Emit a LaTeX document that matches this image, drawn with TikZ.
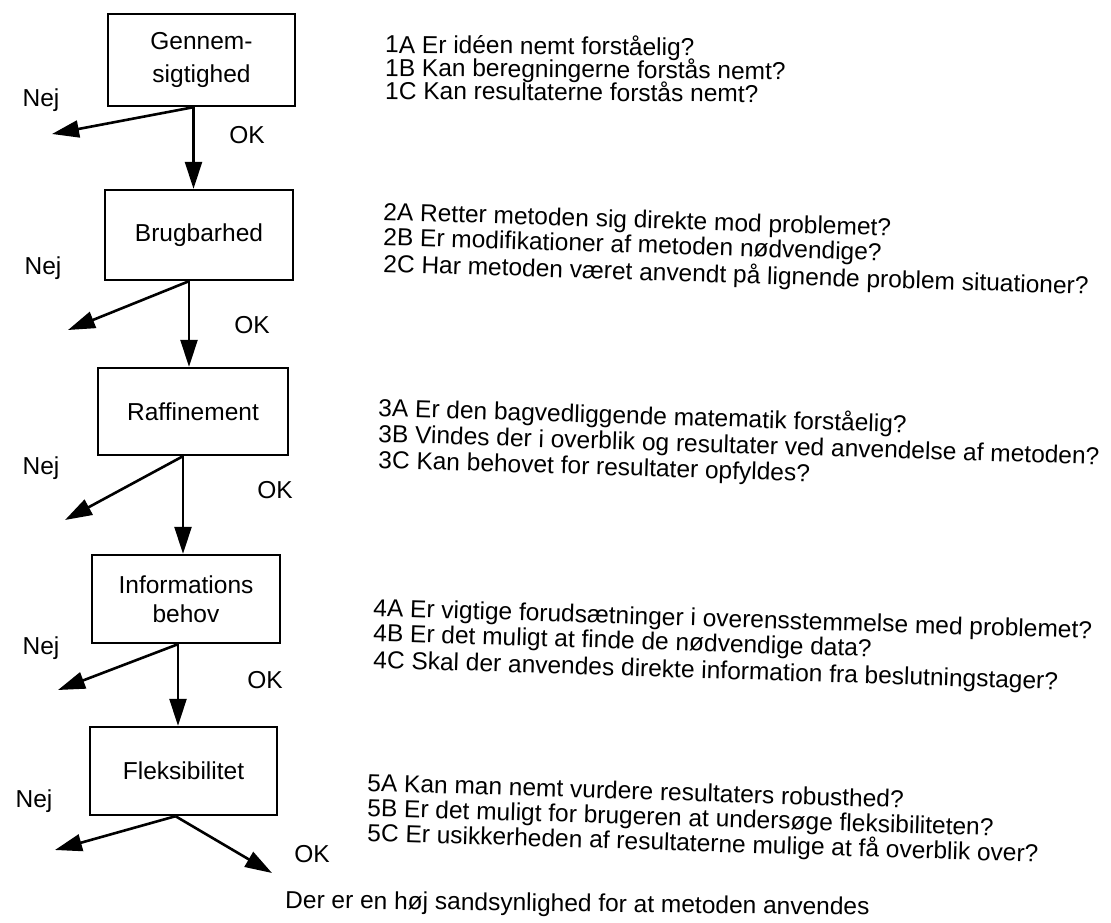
\documentclass[tikz,border=0pt]{standalone}
\usepackage{fontspec}
\setmainfont{Liberation Sans}
\usetikzlibrary{arrows.meta}
\begin{document}
\begin{tikzpicture}[x=1pt,y=-1pt,
  box/.style={draw, line width=2.4pt, align=center, inner sep=0pt, font=\fontsize{24.5}{30}\selectfont},
  lbl/.style={font=\fontsize{24.5}{27}\selectfont, inner sep=0pt},
  q/.style={font=\fontsize{24.5}{27}\selectfont, anchor=base west, inner sep=0pt, rotate=-1.8},
  conn/.style={line width=2.6pt, -{Triangle[length=27pt,width=17pt]}}]
\useasboundingbox[fill=white] (0,0) rectangle (1111,923);

% boxes
\node[box, minimum width=187pt, minimum height=92pt, font=\fontsize{24.5}{33}\selectfont] (b1) at (201.5,60) {Gennem-\\sigtighed};
\node[box, minimum width=188pt, minimum height=90pt] (b2) at (199,235) {Brugbarhed};
\node[box, minimum width=190pt, minimum height=87pt] (b3) at (193,411.5) {Raffinement};
\node[box, minimum width=188pt, minimum height=88pt, font=\fontsize{24.5}{29}\selectfont] (b4) at (186,599) {Informations\\behov};
\node[box, minimum width=187pt, minimum height=88pt] (b5) at (183.5,771) {Fleksibilitet};

% branch points
\coordinate (s1) at ([xshift=-8pt]b1.south);
\coordinate (s2) at ([xshift=-10pt]b2.south);
\coordinate (s3) at ([xshift=-10pt]b3.south);
\coordinate (s4) at ([xshift=-8pt]b4.south);
\coordinate (s5) at ([xshift=-8pt]b5.south);

% OK arrows
\draw[conn] (s1) -- (s1 |- b2.north);
\draw[conn] (s2) -- (s2 |- b3.north);
\draw[conn] (s3) -- (s3 |- b4.north);
\draw[conn] (s4) -- (s4 |- b5.north);
\coordinate (ok5) at (272,873);
\draw[conn] (s5) -- (ok5);

% Nej arrows
\coordinate (n1) at (52,134);
\coordinate (n2) at (68,330);
\coordinate (n3) at (65,520);
\coordinate (n4) at (58,690);
\coordinate (n5) at (55,850);
\draw[conn] (s1) -- (n1);
\draw[conn] (s2) -- (n2);
\draw[conn] (s3) -- (n3);
\draw[conn] (s4) -- (n4);
\draw[conn] (s5) -- (n5);

% labels
\node[lbl] (nej1) at (41,100) {Nej};
\node[lbl] (nej2) at (43,268) {Nej};
\node[lbl] (nej3) at (41,468) {Nej};
\node[lbl] (nej4) at (41,648) {Nej};
\node[lbl] (nej5) at (34,801) {Nej};
\node[lbl] (okl1) at (247,135) {OK};
\node[lbl] (okl2) at (252,325) {OK};
\node[lbl] (okl3) at (275,490) {OK};
\node[lbl] (okl4) at (265,680) {OK};
\node[lbl] (okl5) at (312,854) {OK};

% questions
\node[q, rotate=1.3] (q1a) at (385,53) {1A Er idéen nemt forståelig?};
\node[q, rotate=1.3] (q1b) at (385,76) {1B Kan beregningerne forstås nemt?};
\node[q, rotate=1.3] (q1c) at (385,99) {1C Kan resultaterne forstås nemt?};

\node[q] (q2a) at (383,220) {2A Retter metoden sig direkte mod problemet?};
\node[q] (q2b) at (383,245) {2B Er modifikationer af metoden nødvendige?};
\node[q] (q2c) at (383,272) {2C Har metoden været anvendt på lignende problem situationer?};

\node[q] (q3a) at (378,416) {3A Er den bagvedliggende matematik forståelig?};
\node[q] (q3b) at (378,442) {3B Vindes der i overblik og resultater ved anvendelse af metoden?};
\node[q] (q3c) at (378,468) {3C Kan behovet for resultater opfyldes?};

\node[q] (q4a) at (373,616) {4A Er vigtige forudsætninger i overensstemmelse med problemet?};
\node[q] (q4b) at (373,641) {4B Er det muligt at finde de nødvendige data?};
\node[q] (q4c) at (373,668) {4C Skal der anvendes direkte information fra beslutningstager?};

\node[q] (q5a) at (367,791) {5A Kan man nemt vurdere resultaters robusthed?};
\node[q] (q5b) at (367,816) {5B Er det muligt for brugeren at undersøge fleksibiliteten?};
\node[q] (q5c) at (367,841) {5C Er usikkerheden af resultaterne mulige at få overblik over?};

\node[q, rotate=1.1] (final) at (285,908) {Der er en høj sandsynlighed for at metoden anvendes};
\end{tikzpicture}
\end{document}
